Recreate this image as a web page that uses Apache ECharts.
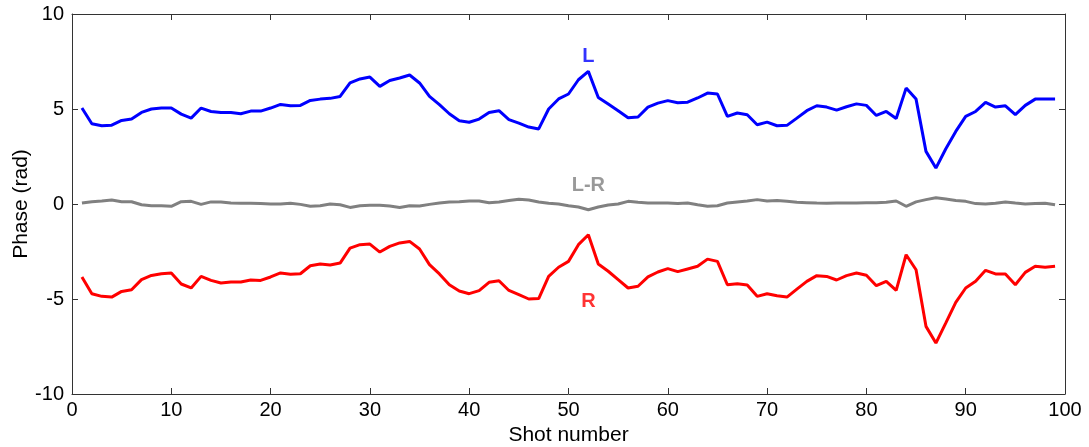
<!DOCTYPE html>
<html><head><meta charset="utf-8">
<script src="https://cdn.jsdelivr.net/npm/echarts@6/dist/echarts.min.js"></script>
<style>html,body{margin:0;padding:0;background:#fff}#c{width:1089px;height:447px}</style>
</head><body><div id="c"></div>
<script>
const shots = Array.from({length: 99}, (_, i) => i + 1);
const L = [5.05,4.22,4.12,4.15,4.4,4.47,4.82,5.0,5.05,5.05,4.73,4.52,5.05,4.87,4.82,4.82,4.75,4.89,4.89,5.05,
5.24,5.17,5.19,5.45,5.52,5.56,5.66,6.37,6.58,6.68,6.19,6.5,6.63,6.79,6.37,5.66,5.23,4.75,4.38,4.3,
4.47,4.82,4.91,4.44,4.26,4.05,3.95,5.0,5.53,5.79,6.54,6.98,5.61,5.26,4.91,4.54,4.58,5.1,5.31,5.44,
5.33,5.36,5.58,5.84,5.79,4.61,4.79,4.7,4.17,4.31,4.12,4.14,4.52,4.91,5.17,5.1,4.94,5.12,5.27,5.19,
4.66,4.87,4.5,6.1,5.52,2.77,1.89,2.91,3.82,4.61,4.87,5.35,5.1,5.17,4.7,5.19,5.52,5.52,5.52];
const R = [-3.84,-4.72,-4.86,-4.9,-4.6,-4.51,-3.98,-3.76,-3.67,-3.63,-4.21,-4.42,-3.81,-4.02,-4.16,-4.11,-4.11,-4.0,-4.02,-3.84,
-3.63,-3.7,-3.67,-3.25,-3.16,-3.21,-3.11,-2.32,-2.14,-2.11,-2.53,-2.23,-2.05,-1.97,-2.37,-3.19,-3.68,-4.25,-4.58,-4.72,
-4.56,-4.12,-4.04,-4.55,-4.77,-5.0,-4.98,-3.81,-3.33,-3.02,-2.14,-1.62,-3.16,-3.54,-3.98,-4.42,-4.33,-3.84,-3.58,-3.4,
-3.56,-3.42,-3.28,-2.9,-3.02,-4.25,-4.2,-4.26,-4.86,-4.72,-4.83,-4.9,-4.48,-4.07,-3.77,-3.81,-4.0,-3.77,-3.63,-3.75,
-4.3,-4.07,-4.55,-2.67,-3.46,-6.44,-7.32,-6.26,-5.18,-4.42,-4.07,-3.49,-3.68,-3.68,-4.25,-3.6,-3.28,-3.33,-3.28];
const LR = [0.05,0.12,0.16,0.21,0.12,0.12,-0.04,-0.09,-0.09,-0.12,0.12,0.14,-0.02,0.11,0.11,0.05,0.04,0.04,0.02,0,
0,0.04,-0.02,-0.12,-0.09,0,-0.04,-0.18,-0.09,-0.07,-0.07,-0.11,-0.18,-0.09,-0.11,-0.02,0.05,0.11,0.12,0.16,
0.16,0.07,0.11,0.18,0.25,0.21,0.11,0.04,0,-0.09,-0.16,-0.3,-0.16,-0.05,0,0.14,0.09,0.05,0.05,0.05,
0.02,0.05,-0.04,-0.12,-0.09,0.05,0.11,0.16,0.23,0.16,0.18,0.14,0.09,0.07,0.05,0.04,0.05,0.05,0.05,0.07,
0.07,0.09,0.16,-0.12,0.11,0.23,0.33,0.26,0.19,0.14,0.02,0,0.04,0.11,0.05,0,0.02,0.04,-0.04];
const xTicks = [0,10,20,30,40,50,60,70,80,90,100];
const yTicks = [-10,-5,0,5,10];
const labels = [
  {text:'L', x:52, y:7.75, color:'#0000ff'},
  {text:'L-R', x:52, y:1.0, color:'#808080'},
  {text:'R', x:52, y:-5.15, color:'#ff0000'}
];

const FONT = '"Liberation Sans", Arial, sans-serif';
const axisLine = {show:true, onZero:false, lineStyle:{color:'#333', width:1}};
const axisTick = {show:true, inside:true, length:6, lineStyle:{color:'#333'}};
const chart = echarts.init(document.getElementById('c'), null, {renderer:'canvas'});
const pair = a => shots.map((s,i)=>[s,a[i]]);
chart.setOption({
  animation:false,
  backgroundColor:'#fff',
  grid:{left:72, right:24, top:14, bottom:53, containLabel:false, outerBoundsMode:'none'},
  xAxis:[
    {type:'value', min:0, max:100, interval:10, position:'bottom',
     name:'Shot number', nameLocation:'middle', nameGap:31, nameMoveOverlap:false,
     nameTextStyle:{fontFamily:FONT, fontSize:21, color:'#000'},
     axisLine, axisTick, splitLine:{show:false},
     axisLabel:{fontFamily:FONT, fontSize:20, color:'#000', margin:6,
       formatter:v=>xTicks.includes(v)?String(v):''}},
    {type:'value', min:0, max:100, interval:10, position:'top',
     axisLine, axisTick, axisLabel:{show:false}, splitLine:{show:false}}
  ],
  yAxis:[
    {type:'value', min:-10, max:10, interval:5, position:'left',
     name:'Phase (rad)', nameLocation:'middle', nameGap:40, nameRotate:90, nameMoveOverlap:false,
     nameTextStyle:{fontFamily:FONT, fontSize:21, color:'#000'},
     axisLine, axisTick, splitLine:{show:false},
     axisLabel:{fontFamily:FONT, fontSize:20, color:'#000', margin:8,
       formatter:v=>yTicks.includes(v)?String(v):''}},
    {type:'value', min:-10, max:10, interval:5, position:'right',
     axisLine, axisTick, axisLabel:{show:false}, splitLine:{show:false}}
  ],
  series:[
    {type:'line', data:pair(L), showSymbol:false, lineStyle:{color:'#0000ff', width:3}, z:3},
    {type:'line', data:pair(LR), showSymbol:false, lineStyle:{color:'#808080', width:3}, z:2},
    {type:'line', data:pair(R), showSymbol:false, lineStyle:{color:'#ff0000', width:3}, z:3},
    {type:'scatter', data:labels.map(l=>({value:[l.x,l.y], label:{show:true, formatter:l.text, color:l.color}})),
     symbolSize:0, silent:true,
     label:{show:true, position:'inside', fontFamily:FONT, fontSize:20, fontWeight:'bold'}}
  ]
});
</script></body></html>
